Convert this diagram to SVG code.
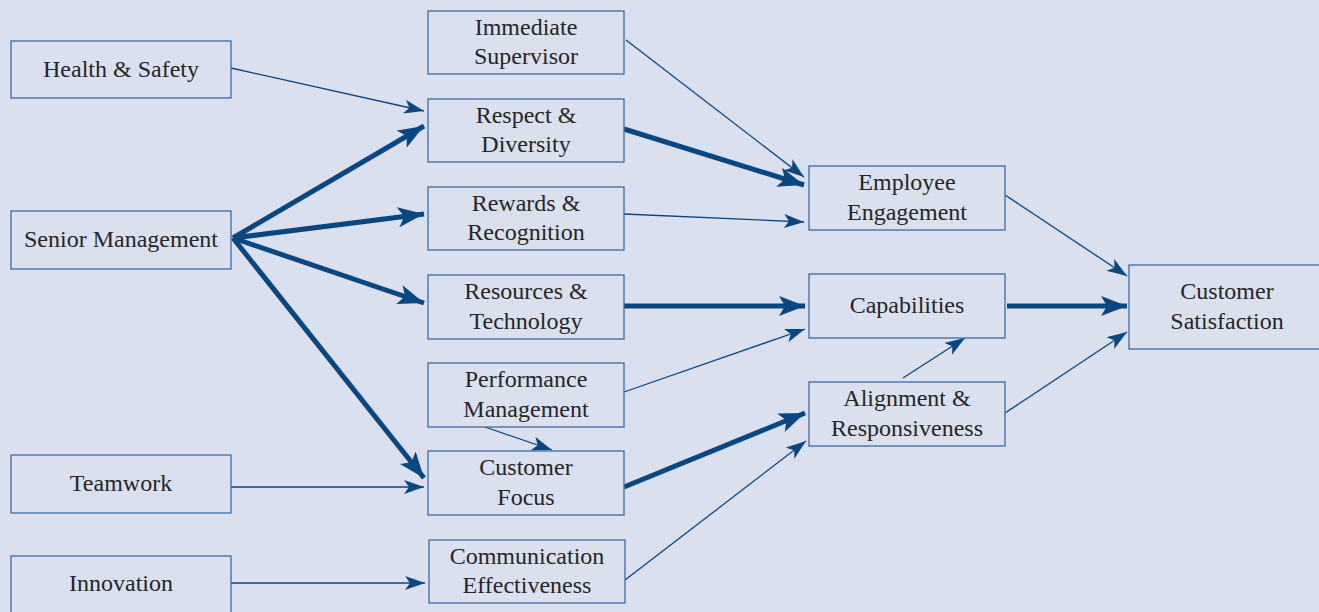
<svg xmlns="http://www.w3.org/2000/svg" width="1319" height="612" viewBox="0 0 1319 612">
<style>
.box{fill:#dae0ee;stroke:#3d6ea3;stroke-width:1.3}
.t{font-family:"Liberation Serif","DejaVu Serif",serif;font-size:24px;fill:#262626;text-anchor:middle}
.thin{stroke:#0a4780;stroke-width:1.3;fill:none;marker-end:url(#ah)}
.thick{stroke:#0a4780;stroke-width:5;fill:none;marker-end:url(#ahb)}
</style>
<defs>
<marker id="ah" markerUnits="userSpaceOnUse" markerWidth="22" markerHeight="16" refX="20" refY="7" orient="auto" viewBox="0 0 22 16">
<path d="M0,0 L20,7 L0,14 L5,7 z" fill="#0a4780"/>
</marker>
<marker id="ahb" markerUnits="userSpaceOnUse" markerWidth="28" markerHeight="22" refX="26" refY="10" orient="auto" viewBox="0 0 28 22">
<path d="M0,0 L26,10 L0,20 L6,10 z" fill="#0a4780"/>
</marker>
</defs>
<rect width="1319" height="612" fill="#dae0ee"/>
<g id="connectors">
<line class="thin" x1="231" y1="68" x2="424" y2="111"/>
<line class="thick" x1="233" y1="238" x2="424" y2="126"/>
<line class="thick" x1="233" y1="238" x2="424" y2="214"/>
<line class="thick" x1="233" y1="238" x2="424" y2="303"/>
<line class="thick" x1="233" y1="238" x2="424" y2="478"/>
<line class="thin" x1="626" y1="40" x2="804" y2="177"/>
<line class="thick" x1="624" y1="129" x2="804" y2="185"/>
<line class="thin" x1="624" y1="214" x2="804" y2="222"/>
<line class="thick" x1="624" y1="306" x2="805" y2="306"/>
<line class="thin" x1="624" y1="392" x2="805" y2="329"/>
<line class="thin" x1="485" y1="427" x2="552" y2="450"/>
<line class="thick" x1="624" y1="487" x2="805" y2="413"/>
<line class="thin" x1="231" y1="487" x2="424" y2="487"/>
<line class="thin" x1="231" y1="583" x2="425" y2="583"/>
<line class="thin" x1="625" y1="580" x2="806" y2="441"/>
<line class="thin" x1="903" y1="378" x2="965" y2="338"/>
<line class="thin" x1="1005" y1="195" x2="1127" y2="276"/>
<line class="thick" x1="1007" y1="306" x2="1127" y2="306"/>
<line class="thin" x1="1005" y1="413" x2="1127" y2="332"/>
</g>
<g id="health"><rect class="box" x="11" y="41" width="220" height="57"/><text class="t" x="121" y="77">Health &amp; Safety</text></g>
<g id="senior"><rect class="box" x="11" y="211" width="220" height="58"/><text class="t" x="121" y="247">Senior Management</text></g>
<g id="teamwork"><rect class="box" x="11" y="455" width="220" height="58"/><text class="t" x="121" y="491">Teamwork</text></g>
<g id="innovation"><rect class="box" x="11" y="556" width="220" height="60"/><text class="t" x="121" y="591">Innovation</text></g>
<g id="supervisor"><rect class="box" x="428" y="11" width="196" height="63"/><text class="t" x="526" y="35">Immediate</text><text class="t" x="526" y="64">Supervisor</text></g>
<g id="respect"><rect class="box" x="428" y="99" width="196" height="63"/><text class="t" x="526" y="123">Respect &amp;</text><text class="t" x="526" y="152">Diversity</text></g>
<g id="rewards"><rect class="box" x="428" y="187" width="196" height="63"/><text class="t" x="526" y="211">Rewards &amp;</text><text class="t" x="526" y="240">Recognition</text></g>
<g id="resources"><rect class="box" x="428" y="275" width="196" height="64"/><text class="t" x="526" y="299">Resources &amp;</text><text class="t" x="526" y="329">Technology</text></g>
<g id="performance"><rect class="box" x="428" y="363" width="196" height="64"/><text class="t" x="526" y="387">Performance</text><text class="t" x="526" y="417">Management</text></g>
<g id="focus"><rect class="box" x="428" y="451" width="196" height="64"/><text class="t" x="526" y="475">Customer</text><text class="t" x="526" y="505">Focus</text></g>
<g id="communication"><rect class="box" x="429" y="540" width="196" height="63"/><text class="t" x="527" y="564">Communication</text><text class="t" x="527" y="593">Effectiveness</text></g>
<g id="engagement"><rect class="box" x="809" y="166" width="196" height="64"/><text class="t" x="907" y="190">Employee</text><text class="t" x="907" y="220">Engagement</text></g>
<g id="capabilities"><rect class="box" x="809" y="274" width="196" height="64"/><text class="t" x="907" y="313">Capabilities</text></g>
<g id="alignment"><rect class="box" x="809" y="382" width="196" height="64"/><text class="t" x="907" y="406">Alignment &amp;</text><text class="t" x="907" y="436">Responsiveness</text></g>
<g id="satisfaction"><rect class="box" x="1129" y="265" width="195" height="84"/><text class="t" x="1227" y="299">Customer</text><text class="t" x="1227" y="329">Satisfaction</text></g>
</svg>
